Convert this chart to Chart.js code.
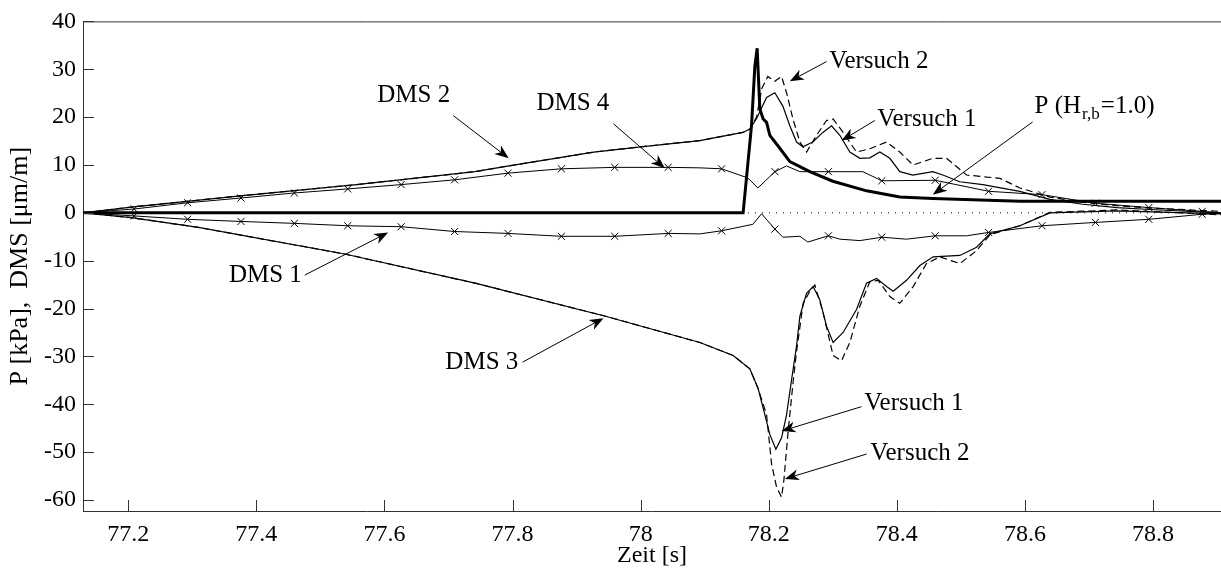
<!DOCTYPE html>
<html>
<head>
<meta charset="utf-8">
<script src="https://cdn.jsdelivr.net/npm/chart.js@4"></script>
<style>
  html, body { margin: 0; padding: 0; background: #fff; }
  #wrap { width: 1221px; height: 570px; position: relative; }
</style>
</head>
<body>
<div id="wrap"><canvas id="chart"></canvas></div>
<script>
// axis setup (MATLAB style box, ticks inside)
const xMin = 77.1295, xMax = 78.906;
const yMin = -62.3, yMax = 40;
const xTicks = [77.2, 77.4, 77.6, 77.8, 78, 78.2, 78.4, 78.6, 78.8];
const yTicks = [-60, -50, -40, -30, -20, -10, 0, 10, 20, 30, 40];

// P (H_r,b = 1.0) pressure, thick line
const pT = [77.1295, 78.16, 78.1731, 78.1783, 78.1819, 78.1861, 78.1913, 78.1966, 78.2017, 78.2173,
  78.2329, 78.2641, 78.3001, 78.3527, 78.4046, 78.4562, 78.592, 78.906];
const pV = [0, 0, 18.2, 30.6, 34.4, 21.7, 19.6, 18.9, 16.2, 13.5,
  10.7, 8.6, 6.6, 4.6, 3.3, 3.0, 2.4, 2.4];

// DMS 2, Versuch 1 (solid) / Versuch 2 (dashed)
const dms2T1 = [77.1295, 77.2048, 77.3712, 77.5565, 77.7412, 77.7943, 77.9267, 78.0003, 78.0925, 78.1596,
  78.1705, 78.181, 78.1966, 78.2095, 78.222, 78.2329, 78.2434, 78.2532, 78.2688, 78.2845,
  78.298, 78.311, 78.3266, 78.3422, 78.3578, 78.3734, 78.389, 78.4046, 78.4249, 78.4561,
  78.4717, 78.4983, 78.5342, 78.592, 78.6388, 78.6903, 78.7434, 78.7949, 78.906];
const dms2V1 = [0, 1.2, 3.5, 5.9, 8.6, 9.8, 12.7, 13.8, 15.1, 16.8,
  17.5, 19.7, 24.1, 25.1, 22.3, 18.2, 14.8, 13.8, 14.8, 16.8,
  18.2, 16.2, 12.7, 11.4, 11.5, 12.7, 11.4, 8.6, 7.9, 8.6,
  7.9, 6.5, 5.9, 4.5, 2.8, 1.8, 1.1, 0.7, 0];
const dms2T2 = [77.1295, 77.2048, 77.3712, 77.5565, 77.7412, 77.7943, 77.9267, 78.0003, 78.0925, 78.1596,
  78.1705, 78.181, 78.1892, 78.1986, 78.2095, 78.22, 78.2278, 78.2376, 78.2486, 78.259,
  78.2746, 78.2902, 78.3005, 78.3161, 78.337, 78.3578, 78.3839, 78.4046, 78.4254, 78.4566,
  78.4775, 78.5088, 78.5608, 78.592, 78.6388, 78.6903, 78.7434, 78.7949, 78.906];
const dms2V2 = [0, 1.2, 3.5, 5.9, 8.6, 9.8, 12.7, 13.8, 15.1, 16.8,
  17.5, 20.0, 26.0, 28.5, 27.5, 28.5, 25.1, 19.7, 14.8, 12.7,
  16.2, 19.3, 19.6, 16.8, 12.7, 13.4, 14.8, 12.7, 10.0, 11.4,
  11.4, 7.9, 7.2, 5.2, 3.3, 2.2, 1.5, 1.0, 0.3];

// DMS 3, Versuch 1 (solid) / Versuch 2 (dashed)
const dms3T1 = [77.1295, 77.2048, 77.3097, 77.538, 77.7417, 77.9452, 78.0925, 78.1444, 78.1705, 78.1834,
  78.1913, 78.2017, 78.2111, 78.22, 78.2278, 78.2329, 78.2434, 78.2486, 78.259, 78.2693,
  78.2798, 78.2902, 78.3005, 78.3161, 78.337, 78.3526, 78.3683, 78.3839, 78.3942, 78.4151,
  78.4359, 78.4566, 78.4983, 78.5244, 78.5452, 78.592, 78.6388, 78.7434, 78.906];
const dms3V1 = [0, -1.0, -3.05, -8.6, -14.7, -21.6, -27.1, -29.8, -32.6, -36.7,
  -40.8, -46.3, -49.4, -47.0, -42.2, -37.4, -27.8, -21.6, -16.8, -15.4,
  -18.2, -23.7, -27.1, -25.0, -20.2, -14.7, -13.7, -15.4, -16.4, -14.1,
  -11.0, -9.2, -8.9, -7.2, -4.4, -2.7, 0.0, 0.4, -0.2];
const dms3T2 = [77.1295, 77.2048, 77.3097, 77.538, 77.7417, 77.9452, 78.0925, 78.1444, 78.1705, 78.1834,
  78.1966, 78.2044, 78.2122, 78.22, 78.2236, 78.2303, 78.2381, 78.2434, 78.2537, 78.2641,
  78.272, 78.2849, 78.3005, 78.3136, 78.3266, 78.3422, 78.3578, 78.3708, 78.389, 78.4046,
  78.4254, 78.4463, 78.4671, 78.4983, 78.5244, 78.5452, 78.592, 78.6388, 78.7434, 78.906];
const dms3V2 = [0, -1.0, -3.05, -8.6, -14.7, -21.6, -27.1, -29.8, -32.6, -36.7,
  -42.2, -52.5, -57.3, -59.4, -55.9, -45.6, -35.3, -29.0, -18.9, -16.4,
  -15.1, -20.9, -29.8, -30.9, -27.1, -19.5, -14.4, -14.1, -17.5, -18.9,
  -15.4, -10.6, -9.2, -10.6, -7.9, -4.6, -2.7, 0.1, 0.6, -0.4];

// x markers on DMS 1 and DMS 4
const markT = [77.2094, 77.2928, 77.3761, 77.4595, 77.5428, 77.6262, 77.7096, 77.7929, 77.8763, 77.9596,
  78.043, 78.1264, 78.2097, 78.2931, 78.3765, 78.4598, 78.5432, 78.6266, 78.7099, 78.7933, 78.8766];

const dms1T = [77.1295, 77.2094, 77.2928, 77.3761, 77.4595, 77.5428, 77.6262, 77.7096, 77.7929, 77.8763,
  77.9596, 78.043, 78.0925, 78.1264, 78.1752, 78.1888, 78.2097, 78.222, 78.2486, 78.2611,
  78.2931, 78.311, 78.3422, 78.3765, 78.4151, 78.4598, 78.5088, 78.5432, 78.6266, 78.7099,
  78.7933, 78.8766, 78.906];
const dms1V = [0, -0.65, -1.35, -1.8, -2.2, -2.7, -2.9, -3.9, -4.3, -4.9,
  -4.9, -4.3, -4.4, -3.75, -2.4, -0.2, -3.4, -5.1, -4.9, -6.1,
  -4.8, -5.5, -5.8, -5.1, -5.5, -4.8, -4.8, -4.1, -2.7, -2.0,
  -1.35, -0.3, -0.1];

const dms4T = [77.1295, 77.2094, 77.2928, 77.3761, 77.4595, 77.5428, 77.6262, 77.7096, 77.7929, 77.8763,
  77.9596, 78.043, 78.0925, 78.1264, 78.1673, 78.183, 78.2097, 78.2278, 78.2486, 78.2931,
  78.3469, 78.3765, 78.4598, 78.5432, 78.6266, 78.7099, 78.7933, 78.8766, 78.906];
const dms4V = [0, 0.8, 2.1, 3.1, 4.15, 5.0, 5.9, 6.9, 8.3, 9.2,
  9.5, 9.5, 9.4, 9.2, 7.3, 5.2, 8.6, 9.8, 8.6, 8.6,
  8.6, 6.7, 6.8, 4.5, 3.8, 2.0, 1.1, 0.3, 0];

// labels with arrows (data coordinates)
const notes = [
  { text: 'DMS 2', at: [77.6457, 24.6], from: [77.7077, 20.3], to: [77.7941, 11.4] },
  { text: 'DMS 4', at: [77.8942, 22.8], from: [77.9576, 18.6], to: [78.0378, 9.3] },
  { text: 'DMS 1', at: [77.4142, -13.1], from: [77.4758, -13.0], to: [77.6059, -4.1] },
  { text: 'DMS 3', at: [77.7521, -31.2], from: [77.8157, -31.2], to: [77.9421, -22.0] },
  { text: 'Versuch 2', at: [78.3718, 31.6], from: [78.2902, 31.6], to: [78.2329, 27.5] },
  { text: 'Versuch 1', at: [78.4468, 19.5], from: [78.3657, 19.3], to: [78.3137, 15.1] },
  { text: 'Versuch 1', at: [78.4266, -39.8], from: [78.3448, -40.5], to: [78.22, -45.6] },
  { text: 'Versuch 2', at: [78.4359, -50.2], from: [78.3527, -50.4], to: [78.2251, -55.6] }
];
const pNote = { at: [78.615, 22.3], from: [78.612, 19.0], to: [78.4561, 3.8] };

const FONT = '"Liberation Serif", "Times New Roman", serif';
const pts = (ts, vs) => ts.map((t, i) => ({ x: t, y: vs[i] }));
const isMark = t => markT.some(m => Math.abs(m - t) < 1e-6);

function drawArrow(ctx, x0, y0, x1, y1) {
    const a = Math.atan2(y1 - y0, x1 - x0);
    const c = Math.cos(a), s = Math.sin(a);
    const L = 14, W = 5.5, N = 10;
    ctx.beginPath();
    ctx.moveTo(x0, y0);
    ctx.lineTo(x1 - c * N, y1 - s * N);
    ctx.stroke();
    const bx = x1 - c * L, by = y1 - s * L;
    ctx.beginPath();
    ctx.moveTo(x1, y1);
    ctx.lineTo(bx - s * W, by + c * W);
    ctx.lineTo(x1 - c * N, y1 - s * N);
    ctx.lineTo(bx + s * W, by - c * W);
    ctx.closePath();
    ctx.fill();
}

const framePlugin = {
    id: 'frame',
    afterDraw(chart) {
        const { ctx, chartArea: a } = chart;
        const x = chart.scales.x, y = chart.scales.y;
        ctx.save();
        ctx.strokeStyle = '#333';
        ctx.lineWidth = 1;
        ctx.beginPath();
        xTicks.forEach(v => {
            const px = Math.round(x.getPixelForValue(v)) + 0.5;
            ctx.moveTo(px, a.bottom);
            ctx.lineTo(px, a.bottom - 11);
        });
        yTicks.forEach(v => {
            const py = Math.round(y.getPixelForValue(v)) + 0.5;
            ctx.moveTo(a.left, py);
            ctx.lineTo(a.left + 11, py);
        });
        ctx.moveTo(a.left, a.top + 0.5);
        ctx.lineTo(a.right, a.top + 0.5);
        ctx.stroke();

        // annotations
        ctx.fillStyle = '#000';
        ctx.strokeStyle = '#000';
        ctx.lineWidth = 1;
        ctx.font = '25px ' + FONT;
        ctx.textAlign = 'center';
        ctx.textBaseline = 'middle';
        notes.forEach(n => {
            ctx.fillText(n.text, x.getPixelForValue(n.at[0]), y.getPixelForValue(n.at[1]));
            drawArrow(ctx, x.getPixelForValue(n.from[0]), y.getPixelForValue(n.from[1]),
                x.getPixelForValue(n.to[0]), y.getPixelForValue(n.to[1]));
        });

        // P (H_r,b=1.0) with subscript
        let px = x.getPixelForValue(pNote.at[0]);
        const py = y.getPixelForValue(pNote.at[1]);
        ctx.textAlign = 'left';
        ctx.fillText('P (H', px, py);
        px += ctx.measureText('P (H').width;
        ctx.font = '17px ' + FONT;
        ctx.fillText('r,b', px + 1, py + 8);
        px += ctx.measureText('r,b').width + 2;
        ctx.font = '25px ' + FONT;
        ctx.fillText('=1.0)', px, py);
        drawArrow(ctx, x.getPixelForValue(pNote.from[0]), y.getPixelForValue(pNote.from[1]),
            x.getPixelForValue(pNote.to[0]), y.getPixelForValue(pNote.to[1]));
        ctx.restore();
    }
};

const thin = (data, dash) => ({
    data: data,
    borderColor: '#000',
    borderWidth: 1.2,
    borderDash: dash || [],
    pointRadius: 0,
    tension: 0
});

const marked = data => ({
    data: data,
    borderColor: '#000',
    borderWidth: 1,
    pointStyle: 'crossRot',
    pointRadius: c => (c.raw && isMark(c.raw.x)) ? 5 : 0,
    pointBorderColor: '#000',
    pointBorderWidth: 1,
    pointBackgroundColor: 'rgba(0,0,0,0)',
    tension: 0
});

new Chart(document.getElementById('chart'), {
    type: 'line',
    data: {
        datasets: [
            { data: pts(pT, pV), borderColor: '#000', borderWidth: 3, pointRadius: 0, tension: 0 },
            thin(pts(dms2T1, dms2V1)),
            thin(pts(dms2T2, dms2V2), [7, 4]),
            thin(pts(dms3T1, dms3V1)),
            thin(pts(dms3T2, dms3V2), [7, 4]),
            marked(pts(dms1T, dms1V)),
            marked(pts(dms4T, dms4V)),
            { data: pts([xMin, xMax], [0, 0]), borderColor: '#000', borderWidth: 1, borderDash: [1, 6], pointRadius: 0 }
        ]
    },
    options: {
        responsive: true,
        maintainAspectRatio: false,
        animation: false,
        layout: { padding: { top: 14, left: 0, right: 0, bottom: 0 } },
        plugins: { legend: { display: false }, tooltip: { enabled: false } },
        scales: {
            x: {
                type: 'linear',
                min: xMin,
                max: xMax,
                afterBuildTicks: s => { s.ticks = xTicks.map(v => ({ value: v })); },
                afterFit: s => { s.height = 59; },
                grid: { display: false, drawTicks: false },
                border: { display: true, color: '#333', width: 1 },
                ticks: {
                    color: '#000',
                    font: { family: FONT, size: 24 },
                    padding: 9,
                    maxRotation: 0,
                    autoSkip: false,
                    callback: v => String(+v.toFixed(1))
                },
                title: { display: true, text: 'Zeit [s]', color: '#000', font: { family: FONT, size: 24 }, padding: { top: 0, bottom: 0 } }
            },
            y: {
                min: yMin,
                max: yMax,
                afterBuildTicks: s => { s.ticks = yTicks.map(v => ({ value: v })); },
                afterFit: s => { s.width = 83; },
                grid: { display: false, drawTicks: false },
                border: { display: true, color: '#333', width: 1 },
                ticks: { color: '#000', font: { family: FONT, size: 24 }, padding: 7 },
                title: { display: true, text: 'P [kPa],  DMS [μm/m]', color: '#000', font: { family: FONT, size: 26 }, padding: { top: 5, bottom: 0 } }
            }
        }
    },
    plugins: [framePlugin]
});
</script>
</body>
</html>
